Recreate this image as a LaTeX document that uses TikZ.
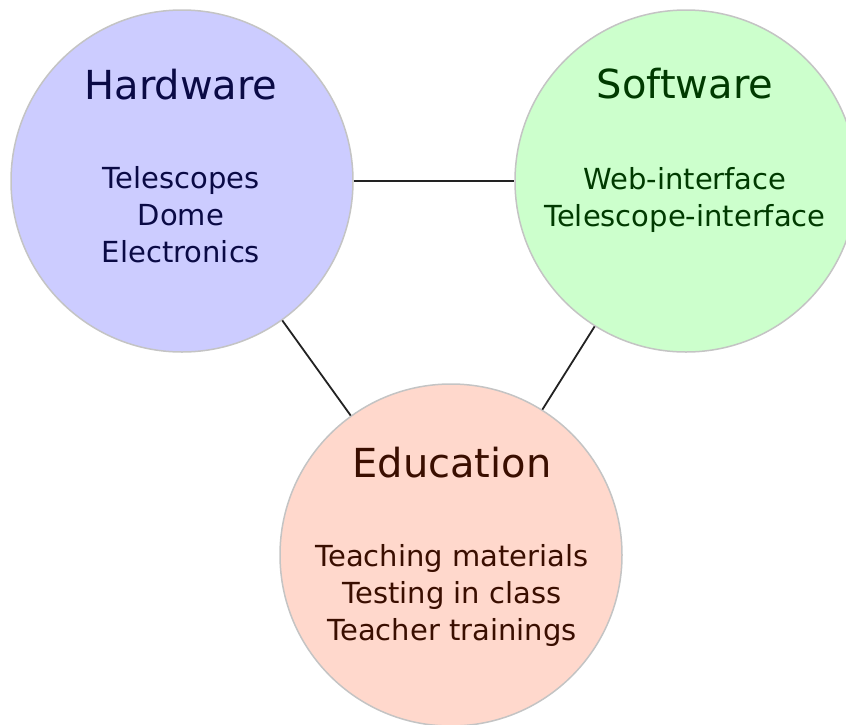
\documentclass[tikz,border=0pt]{standalone}
\usepackage{fontspec}
\setmainfont{DejaVu Sans}
\definecolor{hwfill}{HTML}{CCCCFF}
\definecolor{swfill}{HTML}{CCFFCC}
\definecolor{edfill}{HTML}{FFD8CC}
\definecolor{hwtext}{HTML}{0A0A45}
\definecolor{swtext}{HTML}{003A00}
\definecolor{edtext}{HTML}{3A0E00}
\definecolor{rim}{HTML}{C4C4C4}
\definecolor{link}{HTML}{222222}
\tikzset{
  topic/.style={circle, draw=rim, line width=1.5pt, minimum size=342pt, inner sep=0pt},
  title/.style={anchor=base, font=\fontsize{40}{48}\selectfont},
  body/.style={anchor=base, align=center, font=\fontsize{29}{37}\selectfont},
  connector/.style={draw=link, line width=1.8pt}
}
\begin{document}
\begin{tikzpicture}[x=1pt,y=-1pt]
\useasboundingbox (0,0) rectangle (846,724);
\clip (0,0) rectangle (846,724);
\node[topic, fill=hwfill] (hw) at (182,181) {};
\node[topic, fill=swfill] (sw) at (686,181) {};
\node[topic, fill=edfill] (ed) at (451,555) {};
\draw[connector] (hw) -- (sw);
\draw[connector] (hw) -- (ed);
\draw[connector] (sw) -- (ed);
\node[title, text=hwtext] (hwt) at (181,99) {Hardware};
\node[title, text=swtext] (swt) at (685,98) {Software};
\node[title, text=edtext] (edt) at (452,477) {Education};
\node[body, text=hwtext] (hwb) at (181,262) {Telescopes\\Dome\\Electronics};
\node[body, text=swtext] (swb) at (685,226) {Web-interface\\Telescope-interface};
\node[body, text=edtext] (edb) at (452,640) {Teaching materials\\Testing in class\\Teacher trainings};
\end{tikzpicture}
\end{document}
